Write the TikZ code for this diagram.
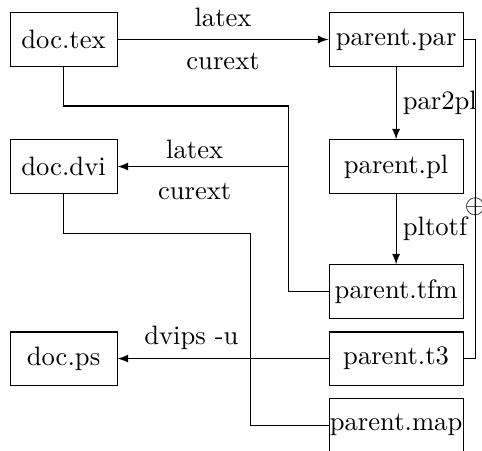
\documentclass[tikz,border=0pt]{standalone}
\usepackage{amsmath}
\usetikzlibrary{arrows,positioning}

\begin{document}
\begin{tikzpicture}[
  x=1pt, y=1pt,
  >=latex,
  file/.style={draw, minimum height=20pt, inner xsep=0pt},
  docfile/.style={file, minimum width=40.2pt},
  fontfile/.style={file, minimum width=50.4pt},
]
\useasboundingbox (0,0) rectangle (181.2,-169.5);

% document side
\node[docfile] (doctex) at (23.9,-14.85) {doc.tex};
\node[docfile] (docdvi) at (23.9,-62.6) {doc.dvi};
\node[docfile] (docps)  at (23.9,-134.8) {doc.ps};

% font side
\node[fontfile] (parpar) at (148.9,-14.85) {parent.par};
\node[fontfile] (parpl)  at (148.9,-62.6) {parent.pl};
\node[fontfile] (partfm) at (148.9,-109.6) {parent.tfm};
\node[fontfile] (part3)  at (148.9,-134.8) {parent.t3};
\node[fontfile] (parmap) at (148.9,-159.8) {parent.map};

\coordinate (texbend) at (108.6,-39.85);
\coordinate (dvitap)  at (108.6,-62.6);
\coordinate (dvibend) at (94.0,-87.7);
\coordinate (t3loop)  at (178.6,-14.85);

\draw[->] (doctex) -- (parpar)
  node[midway,above=1.2pt] {latex}
  node[midway,below=1.6pt] {curext};
\draw[->] (parpar) -- (parpl) node[midway,right=-1pt] {par2pl};
\draw[->] (parpl) -- (partfm) node[midway,right=-1pt] {pltotf};
\draw (parpar) -- (t3loop) |- (part3) node[pos=0.262] {$\oplus$};

\draw (doctex) |- (texbend) |- (partfm);
\draw[->] (dvitap) -- (docdvi)
  node[pos=0.55,above=-0.7pt] {latex}
  node[pos=0.55,below=2.6pt] {curext};

\draw (docdvi) |- (dvibend) |- (parmap);
\draw[->] (part3) -- (docps) node[pos=0.65,above] {dvips -u};
\end{tikzpicture}
\end{document}
